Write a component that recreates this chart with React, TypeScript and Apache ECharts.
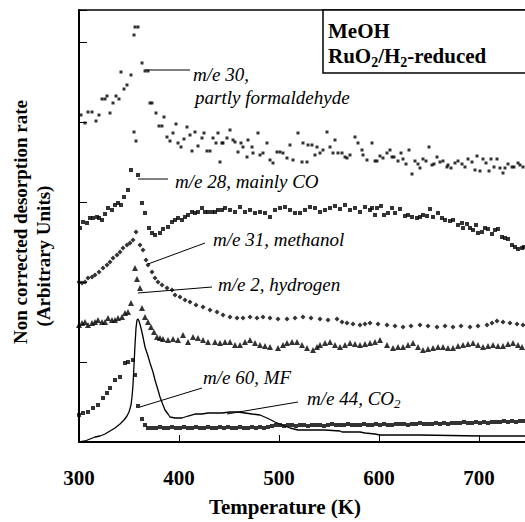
import React, { useEffect, useRef } from 'react';
import * as echarts from 'echarts';

// Temperature axis (K)
const xMin = 300;
const xMax = 746;
const xInterval = 100;
// Arbitrary units axis
const yMin = 0;
const yMax = 432;
const yInterval = 80;

// m/e 30, partly formaldehyde  [T (K), rate]
const me30: number[][] = [
  [302,327],[306,319],[309,330],[313,330],[317,321],[320,327],[323,343],[326,343],[328,346],[331,329],
  [334,339],[337,346],[340,343],[342,370],[345,353],[348,357],[352,367],[355,407],[356,415],[359,415],
  [363,379],[366,371],[369,371],[355,310],[357,301],[371,339],[373,339],[377,329],[380,316],[383,316],
  [385,325],[388,305],[391,301],[394,309],[397,318],[399,299],[402,295],[405,303],[408,315],[411,307],
  [413,291],[416,310],[419,296],[423,304],[425,309],[428,291],[431,291],[434,304],[437,299],[439,309],
  [441,280],[443,299],[444,299],[448,304],[451,312],[454,302],[456,300],[459,290],[462,299],[464,295],
  [468,285],[469,302],[473,295],[474,289],[479,309],[481,287],[484,289],[488,299],[491,282],[494,279],
  [498,290],[501,290],[504,289],[508,284],[511,297],[514,282],[519,309],[523,280],[524,299],[528,280],
  [529,297],[533,297],[536,287],[538,295],[541,289],[544,292],[548,310],[551,295],[554,289],[556,302],
  [559,289],[563,289],[566,285],[568,284],[571,287],[576,305],[579,299],[583,292],[584,287],[588,282],
  [593,299],[596,281],[598,281],[601,286],[604,284],[608,289],[611,292],[613,285],[615,285],[619,281],
  [622,289],[624,283],[627,278],[630,292],[633,268],[636,281],[639,278],[641,274],[644,283],[647,281],
  [650,295],[653,277],[655,278],[658,285],[661,280],[664,281],[668,275],[669,277],[672,274],[676,279],
  [679,281],[683,278],[686,275],[689,283],[693,280],[696,272],[698,286],[701,271],[704,283],[707,279],
  [710,271],[712,283],[715,275],[718,283],[721,274],[724,269],[726,274],[729,278],[733,275],[735,275],
  [739,279],[741,277],[744,275]
];

// m/e 28, mainly CO
const me28: number[][] = [
  [301,214],[304,220],[308,219],[311,224],[314,224],[318,225],[320,224],[323,222],[326,228],[329,234],
  [333,232],[336,237],[339,239],[342,237],[345,245],[349,252],[352,272],[359,267],[363,239],[366,229],
  [370,214],[373,209],[376,207],[381,209],[384,213],[389,215],[393,220],[396,222],[399,224],[403,222],
  [406,225],[409,227],[413,230],[416,229],[419,230],[423,234],[426,230],[429,230],[433,230],[436,230],
  [439,232],[443,232],[446,234],[451,232],[456,230],[461,235],[466,230],[471,232],[476,229],[481,230],
  [486,229],[491,225],[496,232],[501,234],[506,235],[511,232],[516,229],[521,229],[526,232],[531,235],
  [536,234],[541,230],[546,232],[551,234],[556,236],[561,233],[566,237],[571,232],[576,234],[581,230],
  [586,235],[591,232],[593,234],[596,227],[598,234],[602,236],[605,227],[609,229],[613,234],[616,229],
  [621,233],[626,226],[629,227],[633,225],[638,224],[641,225],[644,227],[648,226],[651,233],[654,225],
  [659,229],[663,224],[666,222],[671,221],[674,222],[679,217],[683,219],[684,214],[688,218],[691,214],
  [694,212],[697,217],[699,209],[703,210],[706,214],[709,213],[713,208],[716,212],[719,213],[723,205],
  [726,204],[729,203],[733,197],[736,195],[739,193],[743,194],[745,195]
];

// m/e 31, methanol
const me31: number[][] = [
  [300,160],[303,159],[306,160],[309,164],[313,165],[316,167],[320,170],[324,174],[328,177],[331,180],
  [334,184],[338,187],[341,190],[344,194],[348,197],[351,199],[354,202],[357,210],[361,197],[364,192],
  [367,182],[369,177],[373,170],[376,164],[379,160],[383,157],[388,154],[393,152],[396,147],[401,145],
  [406,142],[411,140],[417,137],[424,135],[431,132],[438,130],[444,127],[451,125],[458,124],[464,124],
  [471,125],[478,124],[484,125],[491,124],[499,123],[508,123],[516,124],[524,125],[532,124],[541,123],
  [549,122],[558,123],[563,120],[568,119],[574,118],[581,117],[586,118],[591,119],[599,118],[608,117],
  [616,116],[624,115],[632,116],[641,117],[649,116],[658,115],[666,116],[674,115],[682,116],[691,115],
  [699,116],[708,117],[713,119],[718,121],[724,120],[731,119],[738,118],[744,117]
];

// m/e 2, hydrogen
const me2: number[][] = [
  [300,117],[303,119],[306,120],[309,117],[313,119],[316,120],[319,122],[323,120],[326,120],[329,124],
  [333,122],[336,122],[339,124],[343,125],[346,129],[349,130],[352,139],[356,174],[358,163],[361,154],
  [363,134],[366,125],[369,120],[372,115],[375,110],[378,105],[381,104],[384,103],[389,102],[394,103],
  [399,102],[404,107],[409,100],[414,105],[419,104],[424,102],[429,100],[436,100],[441,99],[446,100],
  [451,100],[456,97],[461,97],[466,100],[471,102],[476,99],[481,97],[486,96],[491,95],[499,94],
  [504,97],[508,99],[513,100],[518,100],[523,97],[528,94],[534,92],[538,95],[541,97],[546,99],
  [551,100],[556,97],[561,95],[566,97],[571,99],[576,98],[581,97],[586,98],[591,99],[596,100],
  [601,102],[608,97],[614,94],[619,95],[624,95],[629,97],[634,99],[639,95],[644,92],[649,93],
  [654,94],[659,95],[664,95],[669,94],[674,94],[679,96],[684,97],[689,98],[694,99],[699,97],
  [704,95],[709,96],[714,97],[719,96],[724,96],[729,98],[734,99],[739,97],[743,95]
];

// m/e 60, MF
const me60: number[][] = [
  [300,27],[304,29],[309,30],[314,34],[319,37],[324,44],[328,49],[331,54],[336,62],[341,65],
  [346,79],[349,80],[354,82],[356,67],[359,36],[363,23],[366,17],[369,14],[373,14],[377,14],
  [381,15],[385,14],[389,14],[393,15],[397,14],[401,14],[405,15],[409,14],[413,14],[417,15],
  [421,14],[425,14],[429,15],[433,14],[437,14],[441,15],[445,14],[449,15],[453,14],[457,14],
  [461,15],[465,14],[469,14],[473,15],[477,14],[481,15],[485,14],[489,15],[493,16],[497,17],
  [501,17],[505,16],[509,17],[513,17],[517,16],[521,17],[525,17],[529,16],[533,17],[537,17],
  [541,17],[545,16],[549,17],[553,18],[557,17],[561,17],[565,17],[569,18],[573,17],[577,17],
  [581,17],[585,18],[589,17],[593,17],[597,18],[601,17],[605,18],[609,17],[613,17],[617,18],
  [621,18],[625,18],[629,17],[633,18],[637,18],[641,19],[645,18],[649,18],[653,18],[657,19],
  [661,18],[665,19],[669,18],[673,19],[677,19],[681,19],[685,20],[689,19],[693,19],[697,20],
  [701,19],[705,20],[709,19],[713,20],[717,20],[721,20],[725,21],[729,20],[733,21],[737,20],
  [741,21],[745,21]
];

// m/e 44, CO2 (solid line)
const me44: number[][] = [
  [300,0],[306,1],[311,3],[316,5],[321,6],[326,8],[331,11],[336,14],[341,18],[345,22],
  [348,26],[350,30],[352,37],[353,45],[354,57],[355,77],[356,97],[357,114],[358,122],[359,123],
  [360,121],[362,114],[364,105],[366,95],[369,86],[371,79],[374,70],[376,62],[379,52],[381,45],
  [384,37],[386,32],[389,28],[391,25],[396,24],[403,24],[409,26],[416,28],[423,28],[429,29],
  [436,29],[443,29],[451,30],[459,30],[466,29],[473,28],[481,27],[488,24],[496,20],[503,17],
  [511,14],[519,12],[531,12],[546,12],[561,11],[563,10],[581,10],[586,9],[596,8],[601,7],
  [641,7],[701,6],[746,6]
];

const FONT = '"Liberation Serif", "Times New Roman", serif';

export default function App() {
  const ref = useRef<HTMLDivElement>(null);
  useEffect(() => {
    if (!ref.current) return;
    const chart = echarts.init(ref.current, undefined, { renderer: 'svg' });
    const italic = (text: string, x: number, y: number) => ({
      type: 'text',
      x, y,
      style: { text, fontFamily: FONT, fontStyle: 'italic', fontSize: 19, fill: '#000', textVerticalAlign: 'middle', textAlign: 'left' },
    });
    const leader = (x1: number, y1: number, x2: number, y2: number) => ({
      type: 'line',
      shape: { x1, y1, x2, y2 },
      style: { stroke: '#000', lineWidth: 1 },
    });
    chart.setOption({
      animation: false,
      backgroundColor: '#fff',
      grid: { left: 79, right: 0, top: 10, bottom: 80, containLabel: false, outerBoundsMode: 'none' },
      xAxis: [
        {
          type: 'value', min: xMin, max: xMax, interval: xInterval,
          axisLine: { show: true, lineStyle: { color: '#000', width: 2 } },
          axisTick: { show: true, inside: true, length: 7, lineStyle: { color: '#000', width: 1 } },
          axisLabel: { fontFamily: FONT, fontWeight: 'bold', fontSize: 21, color: '#000', margin: 25, showMaxLabel: false, hideOverlap: false },
          splitLine: { show: false },
        },
        {
          type: 'value', position: 'top', min: xMin, max: xMax,
          axisLine: { show: true, onZero: false, lineStyle: { color: '#000', width: 1.5 } },
          axisTick: { show: false }, axisLabel: { show: false }, splitLine: { show: false },
        },
      ],
      yAxis: {
        type: 'value', min: yMin, max: yMax, interval: yInterval,
        axisLine: { show: true, lineStyle: { color: '#000', width: 2 } },
        axisTick: { show: true, inside: true, length: 8, lineStyle: { color: '#000', width: 1 } },
        axisLabel: { show: false },
        splitLine: { show: false },
      },
      series: [
        { name: 'm/e 30', type: 'scatter', data: me30, symbol: 'rect', symbolSize: 3, itemStyle: { color: '#000' } },
        { name: 'm/e 28', type: 'scatter', data: me28, symbol: 'rect', symbolSize: 4, itemStyle: { color: '#000' } },
        { name: 'm/e 31', type: 'scatter', data: me31, symbol: 'diamond', symbolSize: 5, itemStyle: { color: '#000' } },
        { name: 'm/e 2', type: 'scatter', data: me2, symbol: 'triangle', symbolSize: 6, itemStyle: { color: '#000' } },
        { name: 'm/e 60', type: 'scatter', data: me60, symbol: 'rect', symbolSize: 4, itemStyle: { color: '#000' } },
        { name: 'm/e 44', type: 'line', data: me44, showSymbol: false, symbol: 'none', lineStyle: { color: '#000', width: 1.3 } },
      ],
      graphic: [
        { type: 'rect', shape: { x: 323, y: 10, width: 210, height: 63 }, style: { fill: '#fff', stroke: '#000', lineWidth: 1.5 }, z: 10 },
        { type: 'text', x: 328, y: 31, z: 11, style: { text: 'MeOH', fontFamily: FONT, fontWeight: 'bold', fontSize: 21, fill: '#000', textVerticalAlign: 'middle' } },
        {
          type: 'text', x: 328, y: 56, z: 11,
          style: {
            text: '{b|RuO}{s|2}{b|/H}{s|2}{b|-reduced}',
            textVerticalAlign: 'middle',
            rich: {
              b: { fontFamily: FONT, fontWeight: 'bold', fontSize: 21, fill: '#000', lineHeight: 26 },
              s: { fontFamily: FONT, fontWeight: 'bold', fontSize: 14, fill: '#000', lineHeight: 14, verticalAlign: 'bottom' },
            },
          },
        },
        {
          type: 'text', x: 20, y: 222, rotation: Math.PI / 2,
          style: { text: 'Non corrected desorption rate', fontFamily: FONT, fontWeight: 'bold', fontSize: 19, fill: '#000', textAlign: 'center', textVerticalAlign: 'middle' },
        },
        {
          type: 'text', x: 43, y: 256, rotation: Math.PI / 2,
          style: { text: '(Arbitrary Units)', fontFamily: FONT, fontWeight: 'bold', fontSize: 19, fill: '#000', textAlign: 'center', textVerticalAlign: 'middle' },
        },
        {
          type: 'text', x: 285, y: 507,
          style: { text: 'Temperature (K)', fontFamily: FONT, fontWeight: 'bold', fontSize: 21, fill: '#000', textAlign: 'center', textVerticalAlign: 'middle' },
        },
        leader(145, 70, 190, 70),
        italic('m/e 30,', 193, 74),
        italic('partly formaldehyde', 195, 97),
        leader(138, 179, 168, 179),
        italic('m/e 28, mainly CO', 175, 181),
        leader(148, 264, 205, 243),
        italic('m/e 31, methanol', 213, 239),
        leader(138, 293, 212, 287),
        italic('m/e 2, hydrogen', 218, 284),
        leader(140, 407, 202, 388),
        italic('m/e 60, MF', 203, 377),
        leader(227, 414, 298, 402),
        {
          type: 'text', x: 307, y: 398,
          style: {
            text: '{n|m/e 44, CO}{s|2}',
            textVerticalAlign: 'middle',
            rich: {
              n: { fontFamily: FONT, fontStyle: 'italic', fontSize: 19, fill: '#000', lineHeight: 24 },
              s: { fontFamily: FONT, fontStyle: 'italic', fontSize: 13, fill: '#000', lineHeight: 13, verticalAlign: 'bottom' },
            },
          },
        },
      ],
    });
    return () => chart.dispose();
  }, []);
  return (
    <div style={{ position: 'fixed', left: 0, top: 0, width: 525, height: 522, background: '#fff' }}>
      <div ref={ref} style={{ width: 525, height: 522 }} />
    </div>
  );
}
